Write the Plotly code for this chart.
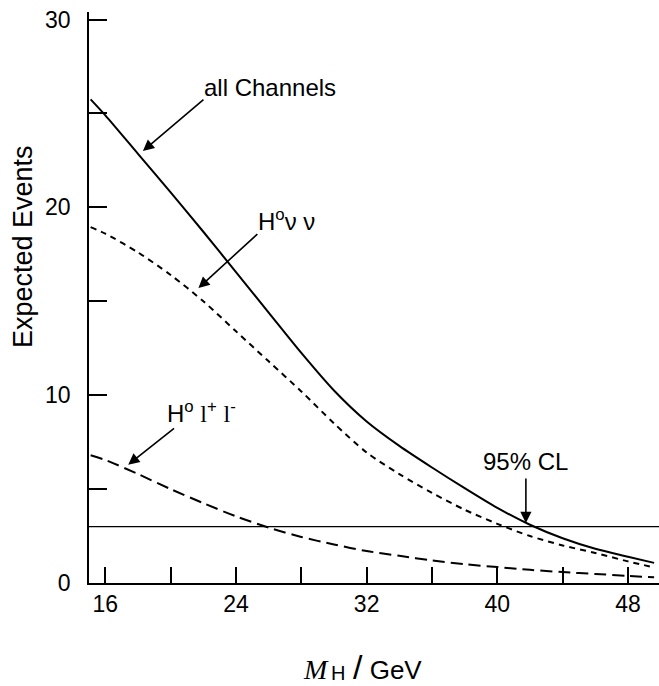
import plotly.graph_objects as go

# ---- data ----
mass = [15.1, 16, 18, 20, 22, 24, 26, 28, 30, 32, 34, 36, 38, 40, 42, 44, 46, 48, 49.6]
all_channels = [25.75, 24.9, 22.85, 20.8, 18.7, 16.55, 14.4, 12.25, 10.25, 8.6, 7.3, 6.15, 5.05, 4.0, 3.1, 2.38, 1.82, 1.4, 1.07]
h_nunu = [18.95, 18.6, 17.6, 16.4, 15.0, 13.4, 11.8, 10.2, 8.5, 6.95, 5.8, 4.8, 3.9, 3.15, 2.5, 2.0, 1.6, 1.15, 0.83]
h_ll = [6.8, 6.55, 5.8, 5.0, 4.25, 3.55, 2.95, 2.45, 2.05, 1.7, 1.45, 1.2, 1.0, 0.85, 0.7, 0.58, 0.48, 0.38, 0.3]
cl_level = 3.0

x_tickvals = [16, 20, 24, 28, 32, 36, 40, 44, 48]
x_ticktext = ["16", "", "24", "", "32", "", "40", "", "48"]
y_tickvals = [0, 5, 10, 15, 20, 25, 30]
y_ticktext = ["0", "", "10", "", "20", "", "30"]

FONT = "Liberation Sans, Arial, Helvetica, sans-serif"
SERIF = "Liberation Serif, Times New Roman, serif"

fig = go.Figure()
fig.add_trace(go.Scatter(x=mass, y=all_channels, mode="lines", line=dict(color="black", width=2, shape="spline", smoothing=0.8), showlegend=False))
fig.add_trace(go.Scatter(x=mass, y=h_nunu, mode="lines", line=dict(color="black", width=2, dash="6px,5px", shape="spline", smoothing=0.8), showlegend=False))
fig.add_trace(go.Scatter(x=mass, y=h_ll, mode="lines", line=dict(color="black", width=2, dash="12px,6px", shape="spline", smoothing=0.8), showlegend=False))

fig.add_shape(type="line", xref="paper", yref="y", x0=0, x1=1, y0=cl_level, y1=cl_level, line=dict(color="black", width=1.3))

arrow_kw = dict(showarrow=True, axref="x", ayref="y", xref="x", yref="y", text="", arrowhead=2, arrowsize=1.4, arrowwidth=1.6, arrowcolor="black", standoff=0, startstandoff=0)
fig.add_annotation(x=18.3, y=23.0, ax=22.1, ay=25.8, **arrow_kw)
fig.add_annotation(x=21.7, y=15.7, ax=25.4, ay=18.65, **arrow_kw)
fig.add_annotation(x=17.4, y=6.3, ax=20.3, ay=8.3, **arrow_kw)
fig.add_annotation(x=41.75, y=3.2, ax=41.75, ay=5.65, **arrow_kw)

txt_kw = dict(showarrow=False, xref="x", yref="y", font=dict(family=FONT, size=24, color="black"))
fig.add_annotation(x=26.1, y=26.4, text="all Channels", **txt_kw)
fig.add_annotation(x=27.1, y=19.35, text="H<sup>o</sup>ν ν", **txt_kw)
fig.add_annotation(x=21.9, y=9.1,
                   text="H<sup>o</sup> <span style='font-family:Liberation Serif'>l</span><sup>+</sup> <span style='font-family:Liberation Serif'>l</span><sup>-</sup>",
                   **txt_kw)
fig.add_annotation(x=41.7, y=6.45, text="95% CL", **txt_kw)


def px_x(px):
    return (px - 89) / 570


def px_y(py):
    return (583 - py) / 571


# x-axis title: M_H / GeV (composed from pieces)
title_kw = dict(xref="paper", yref="paper", showarrow=False, xanchor="left", yanchor="middle")
fig.add_annotation(x=px_x(301), y=px_y(669), text="<i>M</i>", font=dict(family=SERIF, size=28, color="black"), **title_kw)
fig.add_annotation(x=px_x(329), y=px_y(673), text="H", font=dict(family=FONT, size=20, color="black"), **title_kw)
fig.add_annotation(x=px_x(351), y=px_y(667),
                   text="<span style='font-size:34px'>/</span> GeV", font=dict(family=FONT, size=26, color="black"), **title_kw)

# y-axis title
fig.add_annotation(xref="paper", yref="paper", x=px_x(23), y=px_y(247), showarrow=False,
                   text="Expected Events", textangle=-90,
                   font=dict(family=FONT, size=27, color="black"), xanchor="center", yanchor="middle")

fig.update_layout(
    width=659, height=686,
    margin=dict(l=89, r=0, t=12, b=103),
    paper_bgcolor="white", plot_bgcolor="white",
    font=dict(family=FONT, size=23, color="black"),
    xaxis=dict(range=[15, 49.9], showgrid=False, zeroline=False, showline=True, linecolor="black", linewidth=1.5,
               ticks="inside", ticklen=16, tickwidth=1.5, tickcolor="black",
               tickvals=x_tickvals, ticktext=x_ticktext, ticklabelstandoff=0),
    yaxis=dict(range=[0, 30.4], showgrid=False, zeroline=False, showline=True, linecolor="black", linewidth=1.5,
               ticks="inside", ticklen=18, tickwidth=1.5, tickcolor="black",
               tickvals=y_tickvals, ticktext=y_ticktext, ticklabelstandoff=12),
)

fig.write_html("out.html")
